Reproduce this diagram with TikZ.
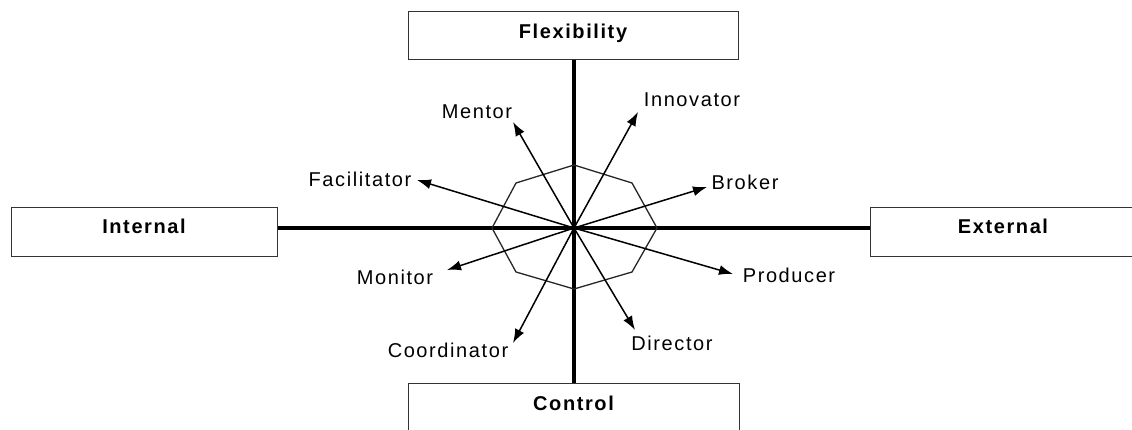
\documentclass[tikz,border=0pt]{standalone}
\usepackage{fontspec}
\setmainfont{Liberation Sans}
\newfontfamily\rolefont[LetterSpace=8]{Liberation Sans}
\newfontfamily\axisfont[LetterSpace=8]{Liberation Sans}
\usetikzlibrary{arrows.meta}
\begin{document}
\begin{tikzpicture}[x=1pt,y=-1pt,
  axisbox/.style={draw=black!80,line width=1pt,fill=white,inner sep=0pt,
    font=\axisfont\bfseries\fontsize{20}{20}\selectfont,text height=14pt},
  axisline/.style={line width=4pt},
  ring/.style={draw=black!85,line width=1.3pt,line join=miter},
  rolearrow/.style={line width=1.5pt,-{Latex[length=14pt,width=10pt]}},
  rolelabel/.style={inner sep=0pt,font=\rolefont\fontsize{20}{20}\selectfont}]
\useasboundingbox (0,0) rectangle (1132,430);
\clip (0,0) rectangle (1132,430);

% centre of the cross
\coordinate (o) at (574,228);

% the four dimension boxes
\node[axisbox,minimum width=330pt,minimum height=48pt,text depth=8pt] (flex) at (573,36) {Flexibility};
\node[axisbox,minimum width=331pt,minimum height=64pt,text depth=24pt] (ctrl) at (573.5,415) {Control};
\node[axisbox,minimum width=266pt,minimum height=49pt,text depth=11pt] (int) at (144,232.5) {Internal};
\node[axisbox,minimum width=266pt,minimum height=49pt,text depth=11pt] (ext) at (1003,232.5) {External};

% the axes
\draw[axisline] (int.east |- o) -- (ext.west |- o);
\draw[axisline] (flex.south -| o) -- (ctrl.north -| o);

% octagon round the centre
\draw[ring] (o) ++(0,-63) -- ++(58,18) -- ++(25,45) -- ++(-25,44)
  -- ++(-58,17) -- ++(-58,-17) -- ++(-24,-44) -- ++(24,-45) -- cycle;

% role labels
\node[rolelabel] (mentor) at (477,112) {Mentor};
\node[rolelabel] (innov) at (692,100) {Innovator};
\node[rolelabel] (facil) at (360,179) {Facilitator};
\node[rolelabel] (broker) at (745,182) {Broker};
\node[rolelabel] (monitor) at (395,277) {Monitor};
\node[rolelabel] (producer) at (789,275) {Producer};
\node[rolelabel] (coord) at (448,350) {Coordinator};
\node[rolelabel] (director) at (672,343) {Director};

% arrow tips next to the labels
\coordinate (tMentor) at (513,122);
\coordinate (tInnov) at (638,112);
\coordinate (tFacil) at (417,180);
\coordinate (tBroker) at (707,187);
\coordinate (tMonitor) at (447,270);
\coordinate (tProducer) at (733,274);
\coordinate (tCoord) at (513,343);
\coordinate (tDirector) at (635,330);

\foreach \t in {tMentor,tInnov,tFacil,tBroker,tMonitor,tProducer,tCoord,tDirector}
  \draw[rolearrow] (o) -- (\t);
\end{tikzpicture}
\end{document}
